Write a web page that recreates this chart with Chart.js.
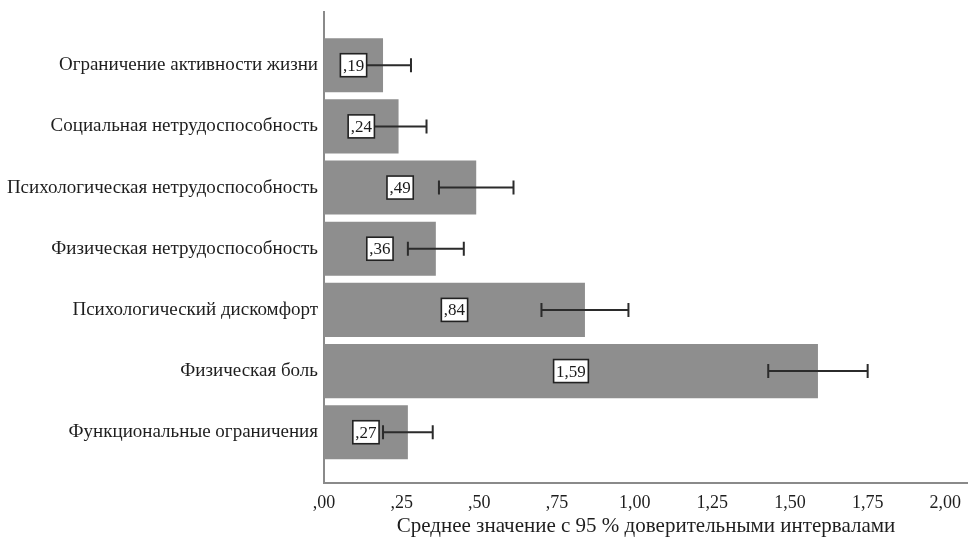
<!DOCTYPE html>
<html>
<head>
<meta charset="utf-8">
<script src="https://cdn.jsdelivr.net/npm/chart.js@4.4.1/dist/chart.umd.min.js"></script>
<style>
  html, body { margin: 0; padding: 0; background: #ffffff; }
  #wrap { width: 968px; height: 547px; position: relative; }
</style>
</head>
<body>
<div id="wrap"><canvas id="c" width="968" height="547"></canvas></div>
<script>
// ---- data ----
const categories = [
  "Ограничение активности жизни",
  "Социальная нетрудоспособность",
  "Психологическая нетрудоспособность",
  "Физическая нетрудоспособность",
  "Психологический дискомфорт",
  "Физическая боль",
  "Функциональные ограничения"
];
const means  = [0.19, 0.24, 0.49, 0.36, 0.84, 1.59, 0.27];
const ciLow  = [0.10, 0.15, 0.37, 0.27, 0.70, 1.43, 0.19];
const ciHigh = [0.28, 0.33, 0.61, 0.45, 0.98, 1.75, 0.35];
const xTicks = [0, 0.25, 0.5, 0.75, 1.0, 1.25, 1.5, 1.75, 2.0];
const xTitle = "Среднее значение с 95 % доверительными интервалами";

const SERIF = "'Liberation Serif', 'DejaVu Serif', serif";

function fmt(v) {
  let s = v.toFixed(2).replace('.', ',');
  if (s.startsWith('0')) s = s.slice(1);
  return s;
}

const overlay = {
  id: 'overlay',
  afterDatasetsDraw(chart) {
    const ctx = chart.ctx;
    const xs = chart.scales.x, ys = chart.scales.y;
    ctx.save();
    // error bars
    ctx.strokeStyle = '#2b2b2b';
    ctx.lineWidth = 2;
    means.forEach((m, i) => {
      const y = ys.getPixelForValue(i);
      const x1 = xs.getPixelForValue(ciLow[i]);
      const x2 = xs.getPixelForValue(ciHigh[i]);
      ctx.beginPath();
      ctx.moveTo(x1, y); ctx.lineTo(x2, y);
      ctx.moveTo(x1, y - 7); ctx.lineTo(x1, y + 7);
      ctx.moveTo(x2, y - 7); ctx.lineTo(x2, y + 7);
      ctx.stroke();
    });
    // value label boxes
    ctx.font = "17px " + SERIF;
    ctx.textAlign = 'center';
    ctx.textBaseline = 'middle';
    means.forEach((m, i) => {
      const y = ys.getPixelForValue(i);
      const x = xs.getPixelForValue(m / 2);
      const txt = fmt(m);
      const w = ctx.measureText(txt).width + 5;
      const h = 23;
      ctx.fillStyle = '#ffffff';
      ctx.fillRect(x - w / 2, y - h / 2, w, h);
      ctx.strokeStyle = '#222222';
      ctx.lineWidth = 1.6;
      ctx.strokeRect(x - w / 2, y - h / 2, w, h);
      ctx.fillStyle = '#1a1a1a';
      ctx.fillText(txt, x, y + 1);
    });
    ctx.restore();
  }
};

const bg = {
  id: 'bg',
  beforeDraw(chart) {
    const ctx = chart.ctx;
    ctx.save();
    ctx.fillStyle = '#ffffff';
    ctx.fillRect(0, 0, chart.width, chart.height);
    ctx.restore();
  }
};

new Chart(document.getElementById('c'), {
  type: 'bar',
  data: {
    datasets: [{
      data: means.map((m, i) => ({ x: m, y: i })),
      backgroundColor: '#8e8e8e',
      borderWidth: 0,
      barPercentage: 0.885,
      categoryPercentage: 1.0
    }]
  },
  options: {
    indexAxis: 'y',
    responsive: false,
    animation: false,
    layout: { padding: { top: 12, right: 0, left: 0, bottom: 0 } },
    plugins: { legend: { display: false }, tooltip: { enabled: false } },
    scales: {
      y: {
        type: 'linear',
        reverse: true,
        offset: false,
        min: -0.87,
        max: 6.83,
        grid: { display: false, drawTicks: false, offset: false },
        border: { display: true, color: '#8a8a8a', width: 2 },
        afterBuildTicks(scale) { scale.ticks = categories.map((_, i) => ({ value: i })); },
        afterFit(scale) { scale.width = 324; scale.paddingTop = 0; scale.paddingBottom = 0; },
        ticks: {
          padding: 6,
          color: '#1e1e1e',
          font: { family: SERIF, size: 19 },
          callback: (v) => categories[v]
        }
      },
      x: {
        type: 'linear',
        min: 0,
        max: 2.073,
        offset: false,
        grid: { display: false, drawTicks: false },
        border: { display: true, color: '#8a8a8a', width: 2 },
        afterBuildTicks(scale) { scale.ticks = xTicks.map(v => ({ value: v })); },
        afterFit(scale) { scale.height = 64; scale.paddingLeft = 0; scale.paddingRight = 0; },
        ticks: {
          padding: 9,
          maxRotation: 0,
          autoSkip: false,
          color: '#1e1e1e',
          font: { family: SERIF, size: 18 },
          callback: (v) => fmt(v)
        },
        title: {
          display: true,
          text: xTitle,
          color: '#1e1e1e',
          font: { family: SERIF, size: 21 },
          padding: { top: 0, bottom: 8 }
        }
      }
    }
  },
  plugins: [bg, overlay]
});
</script>
</body>
</html>
